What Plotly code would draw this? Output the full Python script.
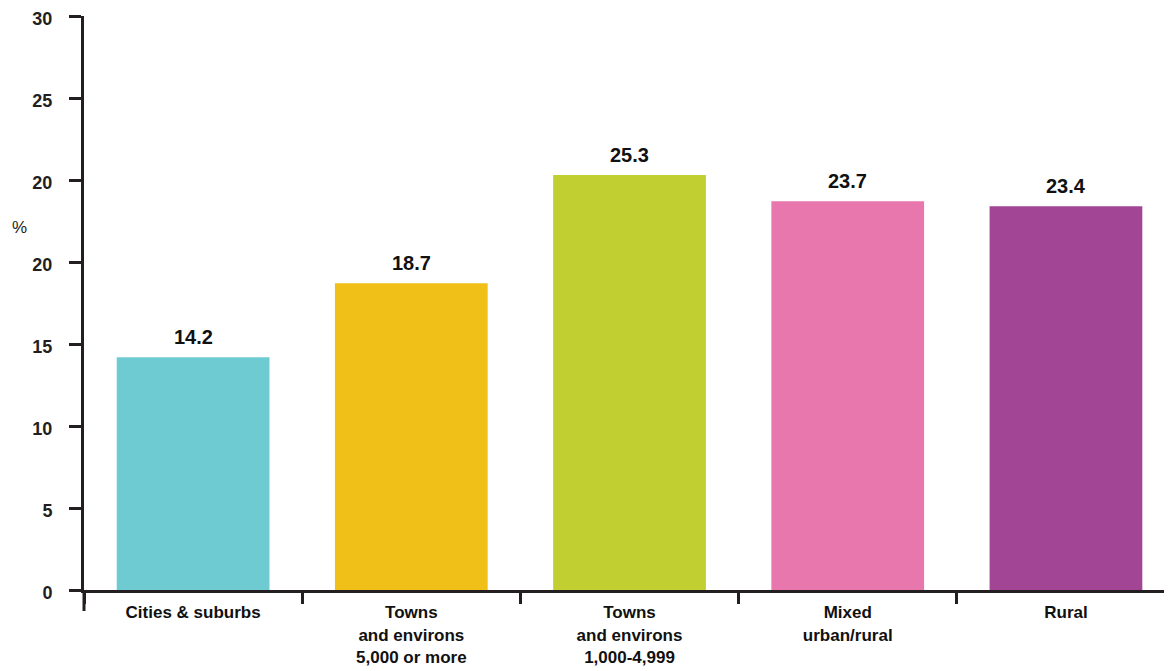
import plotly.graph_objects as go

categories = ["Cities & suburbs", "Towns<br>and environs<br>5,000 or more",
              "Towns<br>and environs<br>1,000-4,999", "Mixed<br>urban/rural", "Rural"]
values = [14.2, 18.7, 25.3, 23.7, 23.4]
colors = ["#6ecbd1", "#f0c018", "#c1cf30", "#e877ad", "#a24595"]
y_tick_vals = [0, 5, 10, 15, 20, 25, 30, 35]
y_tick_text = ["0", "5", "10", "15", "20", "20", "25", "30"]

ink = "#231f20"
FONT = "Liberation Sans, Arial, Helvetica, sans-serif"

fig = go.Figure()
fig.add_trace(go.Bar(
    x=categories, y=values,
    marker=dict(color=colors, line=dict(width=0)),
    width=0.7, hoverinfo="skip",
))

for c, v in zip(categories, values):
    fig.add_annotation(x=c, y=v, text=f"{v:.1f}", showarrow=False,
                       yanchor="middle", yshift=20,
                       font=dict(family=FONT, size=20, color="#111111", weight="bold"))

fig.add_annotation(xref="paper", yref="paper", x=-65/1088, y=0.631, text="%",
                   xanchor="center", yanchor="middle",
                   showarrow=False, font=dict(family=FONT, size=17, color=ink))

# extension of the y-axis line below the baseline
fig.add_shape(type="line", xref="paper", yref="paper", x0=0, x1=0, y0=0, y1=-21/574,
              line=dict(color=ink, width=3))

fig.update_layout(
    width=1164, height=663,
    margin=dict(l=76, r=0, t=8, b=81, autoexpand=False),
    plot_bgcolor="white", paper_bgcolor="white",
    showlegend=False,
    font=dict(family=FONT, color=ink),
    xaxis=dict(
        type="category", range=[-0.5, 4.486],
        tickson="boundaries", ticks="outside", ticklen=11, tickwidth=3, tickcolor=ink,
        showline=True, linecolor=ink, linewidth=3, showgrid=False, zeroline=False,
        tickfont=dict(family=FONT, size=17, color="#111111", weight="bold"),
        ticklabelstandoff=5, automargin=False, ticklabeloverflow="allow",
        fixedrange=True,
    ),
    yaxis=dict(
        range=[0, 35.001], tickmode="array", tickvals=y_tick_vals, ticktext=y_tick_text,
        ticks="outside", ticklen=12, tickwidth=3, tickcolor=ink,
        showline=True, linecolor=ink, linewidth=3, showgrid=False, zeroline=False,
        tickfont=dict(family=FONT, size=18, color=ink, weight="bold"),
        ticklabelstandoff=13, ticklabelshift=3, automargin=False, ticklabeloverflow="allow",
        fixedrange=True,
    ),
)

fig.write_html("out.html", config={"displayModeBar": False})
